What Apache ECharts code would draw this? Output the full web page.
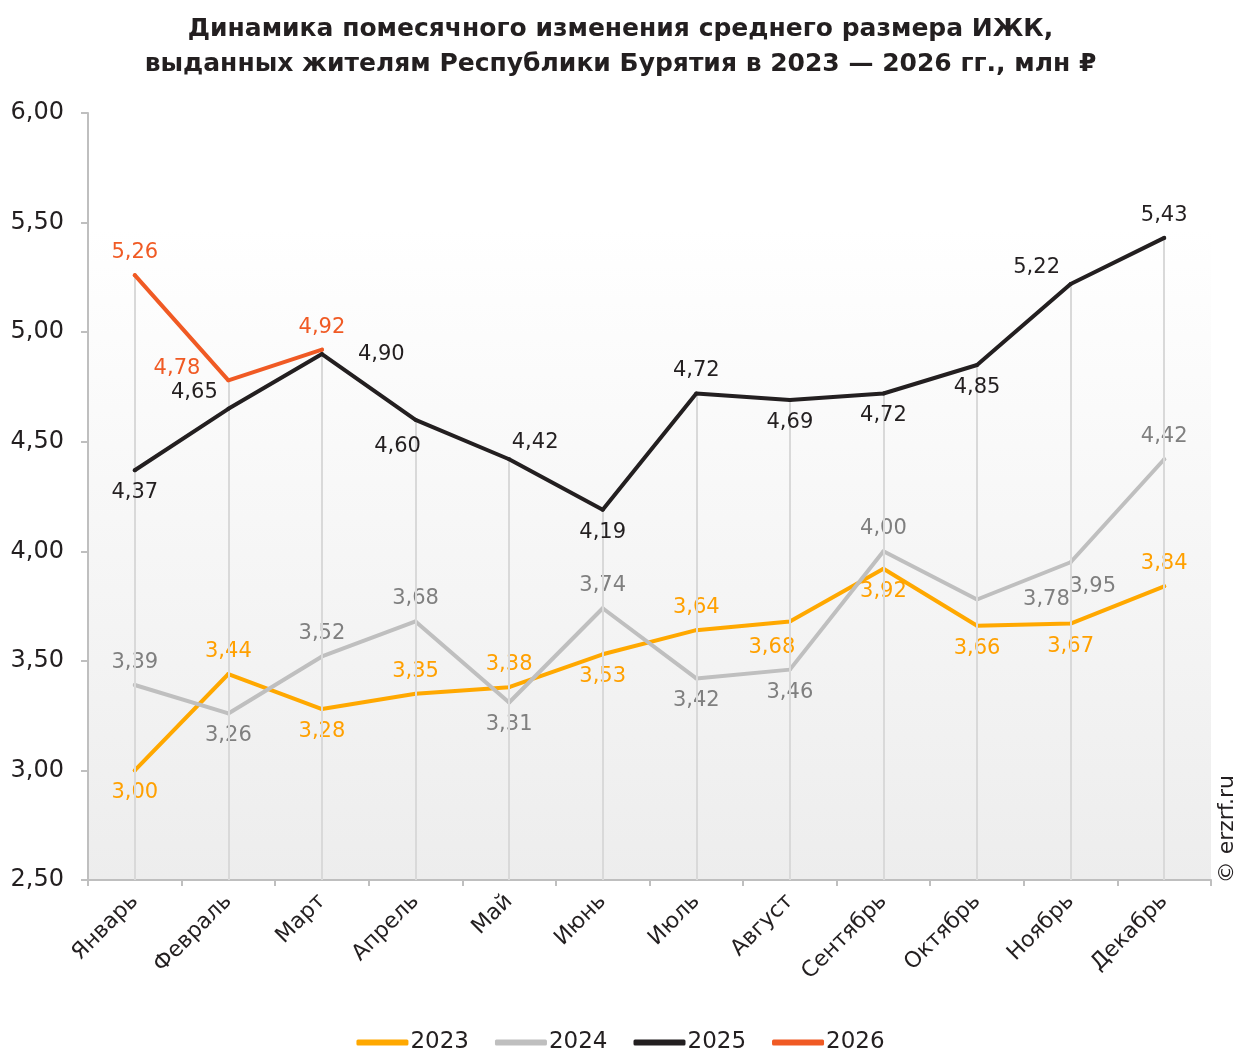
<!DOCTYPE html>
<html><head><meta charset="utf-8">
<script src="https://cdn.jsdelivr.net/npm/echarts@6/dist/echarts.min.js"></script>
<style>html,body{margin:0;padding:0;background:#fff}#c{width:1241px;height:1050px}</style>
</head><body><div id="c"></div>
<script>
const months = ['Январь','Февраль','Март','Апрель','Май','Июнь','Июль','Август','Сентябрь','Октябрь','Ноябрь','Декабрь'];
const years = ['2023','2024','2025','2026'];
const v2023 = [3.00,3.44,3.28,3.35,3.38,3.53,3.64,3.68,3.92,3.66,3.67,3.84];
const v2024 = [3.39,3.26,3.52,3.68,3.31,3.74,3.42,3.46,4.00,3.78,3.95,4.42];
const v2025 = [4.37,4.65,4.90,4.60,4.42,4.19,4.72,4.69,4.72,4.85,5.22,5.43];
const v2026 = [5.26,4.78,4.92];
const yTicks = {min:2.5, max:6, step:0.5};

// label placement (layout only)
const place2023 = ['b','t','b','t','t','b','t','bl','b','b','b','t'];
const place2024 = ['t','b','t','t','b','t','b','b','t','rr','br','t'];
const place2025 = ['b','tl','r','bl','tr','b','t','b','b','b','tl','t'];
const place2026 = ['t','l','t'];

const FONT = 'DejaVu Sans';
const colors = ['#FFA800','#BFBFBF','#231F20','#F05A24'];
const labelColors = ['#FFA000','#7F7F7F','#231F20','#F05A24'];

function fmt(v){return v.toFixed(2).replace('.',',');}
function posOf(p){
  switch(p){
    case 't': return {position:'top', distance:10};
    case 'b': return {position:'bottom', distance:10};
    case 'l': return {position:'left', distance:26, offset:[0,-12]};
    case 'r': return {position:'right', distance:34, offset:[0,0]};
    case 'rr': return {position:'right', distance:44, offset:[0,0]};
    case 'tl': return {position:'top', distance:4, offset:[-34,0]};
    case 'tr': return {position:'top', distance:4, offset:[26,0]};
    case 'bl': return {position:'bottom', distance:14, offset:[-18,0]};
    case 'br': return {position:'bottom', distance:4, offset:[22,8]};
  }
}
function mk(vals, places){
  return vals.map((v,i)=>({value:v, label:posOf(places[i])}));
}
const all = [v2023,v2024,v2025,v2026];
const dropData = months.map((m,i)=>{
  let mx = -Infinity;
  all.forEach(a=>{ if(a[i]!==undefined && a[i]>mx) mx=a[i]; });
  return [{coord:[i,mx]},{coord:[i,yTicks.min]}];
});

const series = all.map((vals,k)=>({
  name: years[k], type:'line',
  data: mk(vals,[place2023,place2024,place2025,place2026][k]),
  symbol:'circle', symbolSize:4, showSymbol:true,
  itemStyle:{color:colors[k]},
  lineStyle:{color:colors[k], width:4, cap:'round', join:'round'},
  label:{show:true, formatter:p=>fmt(p.value), color:labelColors[k], fontSize:21, fontFamily:FONT},
  z: 3+k, animation:false
}));
series.unshift({
  name:'drops', type:'line', data:[], z:1, animation:false,
  markLine:{silent:true, symbol:'none', label:{show:false},
    lineStyle:{color:'#D9D9D9', width:2, type:'solid'}, data:dropData, animation:false}
});

const chart = echarts.init(document.getElementById('c'), null, {renderer:'canvas'});
chart.setOption({
  animation:false,
  backgroundColor:'#fff',
  title:{
    text:'Динамика помесячного изменения среднего размера ИЖК,\nвыданных жителям Республики Бурятия в 2023 — 2026 гг., млн ₽',
    left:'center', top:7,
    textStyle:{fontFamily:FONT, fontWeight:'bold', fontSize:25, lineHeight:35, color:'#231F20'}
  },
  grid:{left:88, right:30, top:113, bottom:170, show:true, borderWidth:0,
    backgroundColor:new echarts.graphic.LinearGradient(0,0,0,1,[{offset:0,color:'#FFFFFF'},{offset:0.15,color:'#FFFFFF'},{offset:1,color:'#EDEDED'}])},
  legend:{data:years, top:1026, left:'center', itemWidth:52, itemHeight:6, itemGap:26, icon:'roundRect',
    textStyle:{fontFamily:FONT, fontSize:23, color:'#231F20', padding:[0,0,0,-3]}},
  xAxis:{type:'category', data:months, boundaryGap:true,
    axisLine:{lineStyle:{color:'#BFBFBF', width:2}},
    axisTick:{show:true, length:6, lineStyle:{color:'#BFBFBF', width:2}},
    axisLabel:{rotate:45, fontFamily:FONT, fontSize:22, color:'#231F20', margin:18, interval:0}},
  yAxis:{type:'value', min:yTicks.min, max:yTicks.max, interval:yTicks.step,
    axisLine:{show:true, lineStyle:{color:'#BFBFBF', width:2}},
    axisTick:{show:true, length:7, lineStyle:{color:'#BFBFBF', width:2}},
    splitLine:{show:false},
    axisLabel:{formatter:v=>fmt(v), fontFamily:FONT, fontSize:24, color:'#231F20', margin:24}},
  graphic:[{type:'text', left:1216, top:775, rotation:Math.PI/2,
    style:{text:'© erzrf.ru', fontFamily:FONT, fontSize:22, fill:'#231F20'}}],
  series: series
});
</script></body></html>
